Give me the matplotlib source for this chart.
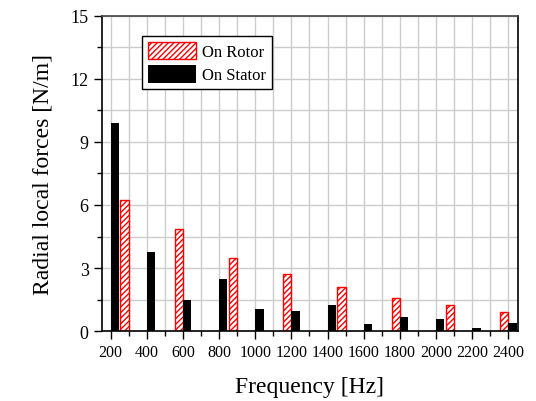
import matplotlib
matplotlib.use('Agg')
import matplotlib.pyplot as plt
import numpy as np
from matplotlib.ticker import MultipleLocator

plt.rcParams['font.family'] = ['Liberation Serif', 'DejaVu Serif']
plt.rcParams['hatch.linewidth'] = 1.0

# forces on rotor (at 300 Hz steps) and on stator (at 200 Hz steps)
rotor_freq = [300, 600, 900, 1200, 1500, 1800, 2100, 2400]
rotor_force = [6.22, 4.87, 3.49, 2.71, 2.10, 1.57, 1.25, 0.93]
stator_freq = [200, 400, 600, 800, 1000, 1200, 1400, 1600, 1800, 2000, 2200, 2400]
stator_force = [9.90, 3.78, 1.48, 2.49, 1.05, 0.97, 1.22, 0.35, 0.68, 0.59, 0.14, 0.40]
xticks = list(range(200, 2401, 200))

bar_w = 46

fig = plt.figure(figsize=(5.36, 4.02), dpi=100)
ax = fig.add_axes([0.190, 0.174, 0.776, 0.784])

ax.bar(rotor_freq, rotor_force, width=-bar_w, align='edge', facecolor='white',
       edgecolor='red', hatch='//////', linewidth=1.0, label='On Rotor', zorder=3)
ax.bar(stator_freq, stator_force, width=bar_w, align='edge', color='black',
       label='On Stator', zorder=3)

ax.set_xlim(152, 2452)
ax.set_ylim(0, 15)
ax.set_xticks(xticks)
ax.set_xticklabels([str(t) for t in xticks], fontsize=11.5)
ax.xaxis.set_minor_locator(MultipleLocator(100))
ax.yaxis.set_major_locator(MultipleLocator(3))
ax.yaxis.set_minor_locator(MultipleLocator(1.5))
ax.tick_params(axis='y', labelsize=13)
ax.tick_params(which='major', direction='out', length=6, width=1, top=False, right=False)
ax.tick_params(which='minor', direction='out', length=3.5, width=1, top=False, right=False)

ax.grid(True, which='both', color='#cccccc', linewidth=1.0, zorder=0)
ax.set_axisbelow(True)
for s in ax.spines.values():
    s.set_linewidth(1.2)
    s.set_zorder(4)
ax.spines['top'].set_color('#444444')

ax.set_xlabel('Frequency [Hz]', fontsize=17, labelpad=11)
ax.set_ylabel('Radial local forces [N/m]', fontsize=17, labelpad=12)

leg = ax.legend(loc='upper left', bbox_to_anchor=(0.096, 0.937), borderaxespad=0,
                fontsize=12, fancybox=False, framealpha=1, edgecolor='black',
                handlelength=2.9, handleheight=1.25, handletextpad=0.35,
                labelspacing=0.3, borderpad=0.35)
leg.get_frame().set_linewidth(1.0)

fig.savefig('out.png', dpi=100)
